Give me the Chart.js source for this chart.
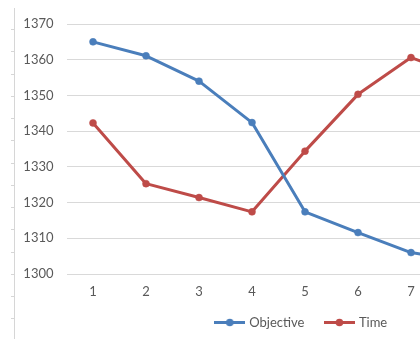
<!DOCTYPE html>
<html>
<head>
<meta charset="utf-8">
<script src="https://cdn.jsdelivr.net/npm/chart.js@4/dist/chart.umd.min.js"></script>
<style>
  html, body { margin: 0; padding: 0; background: #fff; width: 420px; height: 339px; overflow: hidden; }
  #wrap { position: relative; width: 600px; height: 339px; }
  canvas { display: block; }
</style>
</head>
<body>
<div id="wrap"><canvas id="chart" width="600" height="339"></canvas></div>
<script>
// Iteration numbers along the x axis
const categories = ['1', '2', '3', '4', '5', '6', '7', '8'];
// Objective value per iteration
const objectiveValues = [1365.0, 1361.1, 1354.0, 1342.4, 1317.4, 1311.6, 1306.0, 1303.6];
// Time per iteration
const timeValues = [1342.3, 1325.3, 1321.4, 1317.4, 1334.4, 1350.3, 1360.6, 1355.3];
// Value axis range and step
const yMin = 1300, yMax = 1370, yStep = 10;

const BLUE = '#4A7EBB';
const RED = '#BE4B48';
const TEXT = '#595959';
const GRID = '#D9D9D9';
const FONT = { family: 'Lato, "Liberation Sans", sans-serif', size: 13 };

// Legend swatch: a short line with a round marker in the middle
function lineSwatch(color) {
  const c = document.createElement('canvas');
  c.width = 31; c.height = 9;
  const g = c.getContext('2d');
  g.strokeStyle = color; g.lineWidth = 3;
  g.beginPath(); g.moveTo(0, 4.5); g.lineTo(31, 4.5); g.stroke();
  g.fillStyle = color;
  g.beginPath(); g.arc(15.5, 4.5, 3.8, 0, Math.PI * 2); g.fill();
  return c;
}
const swatches = [lineSwatch(BLUE), lineSwatch(RED)];

// Light sheet column edge on the far left with row marks
const sheetEdge = {
  id: 'sheetEdge',
  beforeDraw(chart) {
    const ctx = chart.ctx;
    ctx.save();
    ctx.strokeStyle = '#D6D6D6';
    ctx.lineWidth = 1;
    ctx.beginPath();
    ctx.moveTo(14.5, 8); ctx.lineTo(14.5, chart.height);
    for (let y = 29; y < chart.height; y += 22.25) {
      const yy = Math.round(y) + 0.5;
      ctx.moveTo(11, yy); ctx.lineTo(14.5, yy);
    }
    ctx.stroke();
    ctx.restore();
  }
};

// Center the legend across the full chart frame rather than the plot width,
// and give it the bottom band of the frame
const legendFrame = {
  id: 'legendFrame',
  afterLayout(chart) {
    const lg = chart.legend;
    if (!lg) return;
    lg.left = 2; lg.right = 602; lg.width = 600;
    lg.top = 294; lg.bottom = 339; lg.height = 45;
  }
};

new Chart(document.getElementById('chart'), {
  type: 'line',
  data: {
    labels: categories,
    datasets: [
      {
        label: 'Objective',
        data: objectiveValues,
        borderColor: BLUE,
        backgroundColor: BLUE,
        borderWidth: 3,
        pointRadius: 3.5,
        pointBorderWidth: 0.5,
        pointBackgroundColor: BLUE,
        pointBorderColor: BLUE,
        tension: 0,
        borderJoinStyle: 'round',
        borderCapStyle: 'round'
      },
      {
        label: 'Time',
        data: timeValues,
        borderColor: RED,
        backgroundColor: RED,
        borderWidth: 3,
        pointRadius: 3.5,
        pointBorderWidth: 0.5,
        pointBackgroundColor: RED,
        pointBorderColor: RED,
        tension: 0,
        borderJoinStyle: 'round',
        borderCapStyle: 'round'
      }
    ]
  },
  options: {
    responsive: false,
    animation: false,
    devicePixelRatio: 1,
    layout: { padding: { top: 24, left: 0, right: 109.5, bottom: 0 } },
    plugins: {
      tooltip: { enabled: false },
      legend: {
        position: 'bottom',
        maxHeight: 35,
        labels: {
          color: TEXT,
          font: FONT,
          usePointStyle: true,
          pointStyleWidth: 26,
          boxHeight: 9,
          padding: 22,
          generateLabels(chart) {
            const items = Chart.defaults.plugins.legend.labels.generateLabels(chart);
            items.forEach((it, i) => { it.pointStyle = swatches[i]; });
            return items;
          }
        }
      }
    },
    scales: {
      x: {
        type: 'category',
        offset: true,
        grid: { display: false, drawTicks: false },
        border: { display: false },
        ticks: { color: TEXT, font: FONT, padding: 10, maxRotation: 0 },
        afterFit(scale) { scale.height = 30; }
      },
      y: {
        min: yMin,
        max: yMax,
        grid: { color: GRID, lineWidth: 1, drawTicks: false },
        border: { display: false },
        ticks: {
          stepSize: yStep, color: TEXT, font: FONT, padding: 13,
          callback: (v) => String(v)
        },
        afterFit(scale) { scale.width = 66.5; }
      }
    }
  },
  plugins: [sheetEdge, legendFrame]
});
</script>
</body>
</html>
